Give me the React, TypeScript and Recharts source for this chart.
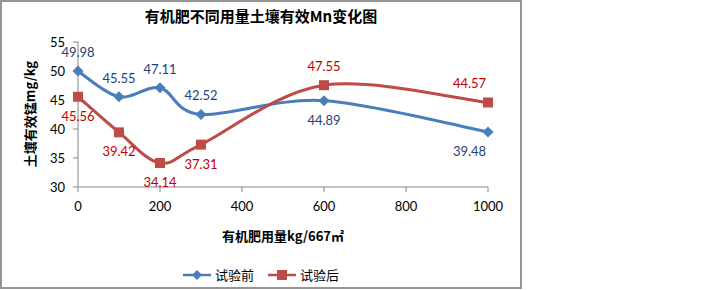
import React from 'react';
import { LineChart, Line, XAxis, YAxis, Legend, LabelList } from 'recharts';

const doses = [0, 100, 200, 300, 600, 1000];
const beforeValues = [49.98, 45.55, 47.11, 42.52, 44.89, 39.48];
const afterValues = [45.56, 39.42, 34.14, 37.31, 47.55, 44.57];
const xTicks = [0, 200, 400, 600, 800, 1000];
const yTicks = [30, 35, 40, 45, 50, 55];
const seriesNames = ['试验前', '试验后'];
const chartTitle = '有机肥不同用量土壤有效Mn变化图';
const xTitle = '有机肥用量kg/667㎡';
const yTitle = '土壤有效锰mg/kg';

const beforeLabelSide = ['top', 'top', 'top', 'top', 'bottom', 'bottom'];
const afterLabelSide = ['bottom', 'bottom', 'bottom', 'bottom', 'top', 'top'];

const data = doses.map((d, i) => ({ dose: d, before: beforeValues[i], after: afterValues[i] }));

const BLUE = '#4A7EBB';
const RED = '#BE4B48';
const BLUE_TEXT = '#1F3F7A';
const RED_TEXT = '#C00000';
const NUM_FONT = 'Lato, "Liberation Sans", sans-serif';
const CJK_FONT = '"Noto Sans CJK SC", "Noto Sans", sans-serif';

const PLOT_RIGHT = 488;

// Excel-like smoothing (Catmull-Rom as cubic Bezier)
const excelCurve: any = (context: any) => {
  let pts: [number, number][] = [];
  return {
    areaStart() {},
    areaEnd() {},
    lineStart() {
      pts = [];
    },
    point(x: number, y: number) {
      pts.push([+x, +y]);
    },
    lineEnd() {
      const n = pts.length;
      if (!n) return;
      context.moveTo(pts[0][0], pts[0][1]);
      if (n === 1) return;
      for (let i = 0; i < n - 1; i++) {
        const p0 = pts[i - 1] || pts[i];
        const p1 = pts[i];
        const p2 = pts[i + 1];
        const p3 = pts[i + 2] || p2;
        const c1x = p1[0] + (p2[0] - p0[0]) / 6;
        const c1y = p1[1] + (p2[1] - p0[1]) / 6;
        const c2x = p2[0] - (p3[0] - p1[0]) / 6;
        const c2y = p2[1] - (p3[1] - p1[1]) / 6;
        context.bezierCurveTo(c1x, c1y, c2x, c2y, p2[0], p2[1]);
      }
    },
  };
};

const Diamond = ({ cx, cy, r = 5, fill }: any) => (
  <path d={`M${cx},${cy - r}L${cx + r},${cy}L${cx},${cy + r}L${cx - r},${cy}Z`} fill={fill} />
);
const Square = ({ cx, cy, r = 5, fill }: any) => (
  <rect x={cx - r} y={cy - r} width={r * 2} height={r * 2} fill={fill} />
);

const makeLabel = (sides: string[], color: string) => (props: any) => {
  const x = props.x ?? props.viewBox?.x;
  const y = props.y ?? props.viewBox?.y;
  const { value, index } = props;
  if (x == null || y == null) return null;
  const text = Number(value).toFixed(2);
  const w = 33;
  let cx = x;
  if (cx + w / 2 > PLOT_RIGHT) cx = PLOT_RIGHT - w / 2 - 2;
  const cy = sides[index] === 'top' ? y - 19 : y + 19;
  return (
    <text
      x={cx}
      y={cy}
      textAnchor="middle"
      dominantBaseline="central"
      fontFamily={NUM_FONT}
      fontSize={13}
      fill={color}
    >
      {text}
    </text>
  );
};

const renderLegend = () => (
  <div
    style={{
      display: 'flex',
      justifyContent: 'center',
      alignItems: 'center',
      gap: 14,
      fontFamily: CJK_FONT,
      fontSize: 13,
      color: '#000',
    }}
  >
    {seriesNames.map((name, i) => (
      <div key={name} style={{ display: 'flex', alignItems: 'center', gap: 4 }}>
        <svg width={28} height={12}>
          <line x1={0} y1={6} x2={28} y2={6} stroke={i === 0 ? BLUE : RED} strokeWidth={2.5} />
          {i === 0 ? <Diamond cx={14} cy={6} r={5} fill={BLUE} /> : <Square cx={14} cy={6} r={5} fill={RED} />}
        </svg>
        <span>{name}</span>
      </div>
    ))}
  </div>
);

export default function App() {
  return (
    <div style={{ position: 'absolute', left: 0, top: 0, width: 720, height: 290, background: '#fff' }}>
      <div
        style={{
          position: 'absolute',
          left: 0,
          top: 0,
          width: 522,
          height: 289,
          boxSizing: 'border-box',
          border: '2px solid #959595',
        }}
      />
      <div
        style={{
          position: 'absolute',
          left: 0,
          top: 5,
          width: 522,
          textAlign: 'center',
          fontFamily: CJK_FONT,
          fontWeight: 'bold',
          fontSize: 15,
          color: '#000',
          lineHeight: '22px',
        }}
      >
        {chartTitle}
      </div>
      <div
        style={{
          position: 'absolute',
          left: 78,
          top: 226,
          width: 410,
          textAlign: 'center',
          fontFamily: CJK_FONT,
          fontWeight: 'bold',
          fontSize: 13,
          color: '#000',
          lineHeight: '20px',
        }}
      >
        {xTitle}
      </div>
      <div
        style={{
          position: 'absolute',
          left: 30,
          top: 114,
          transform: 'translate(-50%, -50%) rotate(-90deg)',
          whiteSpace: 'nowrap',
          fontFamily: CJK_FONT,
          fontWeight: 'bold',
          fontSize: 13,
          color: '#000',
          lineHeight: '18px',
        }}
      >
        {yTitle}
      </div>
      <div style={{ position: 'absolute', left: 0, top: 0 }}>
        <LineChart width={720} height={290} data={data} margin={{ top: 42, right: 232, bottom: 73, left: 38 }}>
          <XAxis
            dataKey="dose"
            type="number"
            domain={[0, 1000]}
            ticks={xTicks}
            height={30}
            tickSize={5}
            tickMargin={10}
            stroke="#868686"
            tick={{ fill: '#000', fontSize: 13, fontFamily: NUM_FONT }}
            axisLine={{ stroke: '#868686' }}
            tickLine={{ stroke: '#868686' }}
          />
          <YAxis
            type="number"
            domain={[30, 55]}
            ticks={yTicks}
            width={40}
            tickSize={5}
            tickMargin={8}
            interval={0}
            tick={{ fill: '#000', fontSize: 13, fontFamily: NUM_FONT }}
            axisLine={{ stroke: '#868686' }}
            tickLine={{ stroke: '#868686' }}
          />
          <Legend
            layout="horizontal"
            verticalAlign="middle"
            align="center"
            content={renderLegend}
            wrapperStyle={{ position: 'absolute', left: 0, top: 265, width: 522, height: 20 }}
          />
          <Line
            name={seriesNames[0]}
            dataKey="before"
            type={excelCurve}
            stroke={BLUE}
            strokeWidth={3}
            dot={(p: any) => <Diamond key={`b${p.index}`} cx={p.cx} cy={p.cy} r={5.5} fill={BLUE} />}
            activeDot={false}
            isAnimationActive={false}
          >
            <LabelList dataKey="before" content={makeLabel(beforeLabelSide, BLUE_TEXT)} />
          </Line>
          <Line
            name={seriesNames[1]}
            dataKey="after"
            type={excelCurve}
            stroke={RED}
            strokeWidth={3}
            dot={(p: any) => <Square key={`a${p.index}`} cx={p.cx} cy={p.cy} r={5} fill={RED} />}
            activeDot={false}
            isAnimationActive={false}
          >
            <LabelList dataKey="after" content={makeLabel(afterLabelSide, RED_TEXT)} />
          </Line>
        </LineChart>
      </div>
    </div>
  );
}
